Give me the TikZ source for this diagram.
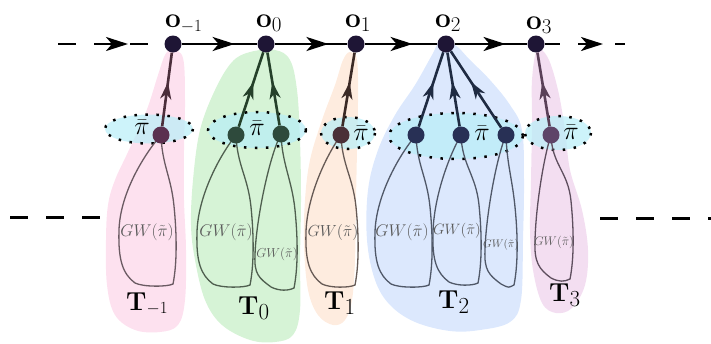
\RequirePackage{fix-cm}
\documentclass[tikz,border=0pt]{standalone}
\usetikzlibrary{arrows.meta,decorations.markings}
\definecolor{pinkT}{HTML}{FDE1EF}
\definecolor{greenT}{HTML}{D6F3D6}
\definecolor{peachT}{HTML}{FEECDF}
\definecolor{blueT}{HTML}{DCE8FD}
\definecolor{purpT}{HTML}{F3DEF1}
\definecolor{cyanE}{HTML}{B8EEF8}
\definecolor{odot}{HTML}{1E1535}
\definecolor{dotA}{HTML}{5B3050}
\definecolor{dotB}{HTML}{2E4A3C}
\definecolor{dotC}{HTML}{4A3038}
\definecolor{dotD}{HTML}{283055}
\definecolor{dotE}{HTML}{5E4468}
\definecolor{arrA}{HTML}{4B2E3B}
\definecolor{arrB}{HTML}{25402A}
\definecolor{arrC}{HTML}{3B2A26}
\definecolor{arrD}{HTML}{1F2B42}
\definecolor{arrE}{HTML}{5A4058}
\definecolor{gwc}{HTML}{5A5A5A}
\definecolor{loopA}{HTML}{6A5A62}
\definecolor{loopB}{HTML}{4F5F4F}
\definecolor{loopC}{HTML}{665A55}
\definecolor{loopD}{HTML}{505868}
\definecolor{loopE}{HTML}{5E4E5E}
% #1 dot x, #2 dot y, #3 left x, #4 right x, #5 bottom y, #6 y of left extreme, #7 colour
\newcommand\gwloop[7]{%
 \draw[gwline,draw=#7] (#1,#2) .. controls ({#1-0.45*(#1-#3)},{#2+22}) and ({#3+1},{#6-35}) .. (#3,#6)
   .. controls ({#3-1},{#6+0.55*(#5-#6)}) and ({#3+4},{#5-12}) .. ({#3+16},{#5-3})
   .. controls ({#3+24},{#5+1}) and ({#4-9},{#5+1}) .. ({#4-3},{#5-2})
   .. controls ({#4+1},{#5-22}) and ({#4+1},{#5-50}) .. ({#4-2},{#5-80})
   .. controls ({#4-5},{#5-110}) and ({#1+1},{#2+30}) .. (#1,#2);}
\newcommand\subsz[2]{\mbox{\fontsize{#1}{#1}\selectfont$#2$}}
\tikzset{
 every node/.style={inner sep=0pt},
 ell/.style={fill=cyanE, fill opacity=0.7, draw=black, line width=2.5pt, dash pattern=on 2.5pt off 8.5pt},
 odotst/.style={circle, fill=odot, minimum size=17pt},
 idot/.style={circle, fill=#1, minimum size=17pt},
 spinearr/.style={line width=2.6pt, postaction={decorate}, decoration={markings, mark=at position #1 with {\arrow{Stealth[length=22pt,width=14pt,inset=6pt]}}}},
 upedge/.style={line width=2.6pt, draw=#1, postaction={decorate}, decoration={markings, mark=at position 0.6 with {\arrow{Stealth[length=17pt,width=11pt,inset=5pt,color=#1]}}}},
 gwline/.style={line width=1.3pt},
 gwtext/.style={text=gwc},
 olab/.style={anchor=base west, font=\fontsize{28}{28}\selectfont},
 tlab/.style={anchor=base west, font=\fontsize{26}{26}\selectfont},
 pilab/.style={font=\fontsize{26}{26}\selectfont},
 lowdash/.style={line width=3pt, dash pattern=on 18pt off 18pt},
 spinedash/.style={line width=2.6pt},
}
\begin{document}
\begin{tikzpicture}[x=1pt,y=-1pt]
\useasboundingbox (0,0) rectangle (711,343);
% blobs
\fill[pinkT] plot[smooth cycle, tension=0.6] coordinates {(172,50) (183,58) (185,100) (184,150) (184,200) (186,250) (185,300) (178,325) (160,332) (135,330) (115,315) (107,285) (106,240) (108,205) (115,180) (128,152) (146,112) (158,75) (165,55)};
\fill[greenT] plot[smooth cycle, tension=0.6] coordinates {(250,52) (275,50) (290,60) (297,90) (300,140) (301,200) (300,260) (300,310) (293,335) (275,342) (250,340) (222,325) (205,300) (195,260) (191,225) (193,180) (200,130) (215,90) (232,62)};
\fill[peachT] plot[smooth cycle, tension=0.6] coordinates {(350,52) (357,60) (358,100) (357,150) (356,200) (355,260) (352,300) (345,320) (333,325) (318,315) (308,290) (304,245) (305,200) (310,160) (322,120) (335,85) (343,60)};
\fill[blueT] plot[smooth cycle, tension=0.6] coordinates {(440,42) (455,45) (470,60) (490,80) (510,105) (522,130) (524,180) (523,240) (521,300) (510,322) (480,330) (450,331) (415,322) (390,305) (375,280) (367,240) (368,190) (378,150) (395,115) (415,85) (432,55)};
\fill[purpT] plot[smooth cycle, tension=0.6] coordinates {(537,50) (548,58) (558,90) (565,130) (570,170) (582,210) (588,250) (585,285) (572,308) (556,313) (542,303) (533,270) (530,230) (531,180) (532,120) (532,80)};
% ellipses
\draw[ell] (149,129) ellipse [x radius=44, y radius=14.5];
\draw[ell] (257,130) ellipse [x radius=49, y radius=18];
\draw[ell] (348,133) ellipse [x radius=27, y radius=16];
\draw[ell] (456,136) ellipse [x radius=67, y radius=23];
\draw[ell] (558,133) ellipse [x radius=33, y radius=17];
% GW loops
\gwloop{161}{135}{119}{176}{286}{230}{loopA}
\gwloop{236}{135}{197}{253}{287}{232}{loopB}
\gwloop{281}{134}{255}{297}{290}{255}{loopB}
\gwloop{341}{135}{306}{358}{287}{232}{loopC}
\gwloop{416}{135}{375}{432}{287}{232}{loopD}
\gwloop{461}{135}{433}{481}{285}{232}{loopD}
\gwloop{506}{135}{485}{517}{287}{250}{loopD}
\gwloop{551}{135}{535}{573}{281}{240}{loopE}
% GW labels
\node[gwtext, font=\fontsize{17}{17}\selectfont] (g1) at (147,232) {$GW(\tilde{\pi})$};
\node[gwtext, font=\fontsize{17}{17}\selectfont] (g2) at (226,232) {$GW(\tilde{\pi})$};
\node[gwtext, font=\fontsize{13}{13}\selectfont] (g3) at (277,254) {$GW(\tilde{\pi})$};
\node[gwtext, font=\fontsize{16}{16}\selectfont] (g4) at (333,232) {$GW(\tilde{\pi})$};
\node[gwtext, font=\fontsize{17}{17}\selectfont] (g5) at (402,232) {$GW(\tilde{\pi})$};
\node[gwtext, font=\fontsize{15}{15}\selectfont] (g6) at (457,231) {$GW(\tilde{\pi})$};
\node[gwtext, font=\fontsize{11}{11}\selectfont] (g7) at (501,245) {$GW(\tilde{\pi})$};
\node[gwtext, font=\fontsize{12.5}{12.5}\selectfont] (g8) at (554,242) {$GW(\tilde{\pi})$};
% lower dashed lines
\coordinate (ll1) at (10,217); \coordinate (ll2) at (100,217);
\coordinate (lr1) at (600,218); \coordinate (lr2) at (711,218);
\draw[lowdash] (ll1) -- (ll2);
\draw[lowdash] (lr1) -- (lr2);
% spine nodes
\node[odotst] (om1) at (173,44) {};
\node[odotst] (o0) at (266,44) {};
\node[odotst] (o1) at (356,44) {};
\node[odotst] (o2) at (446,44) {};
\node[odotst] (o3) at (536,44) {};
% inner dots
\node[idot=dotA] (a1) at (161,135) {};
\node[idot=dotB] (b1) at (236,135) {};
\node[idot=dotB] (b2) at (281,134) {};
\node[idot=dotC] (c1) at (341,135) {};
\node[idot=dotD] (d1) at (416,135) {};
\node[idot=dotD] (d2) at (461,135) {};
\node[idot=dotD] (d3) at (506,135) {};
\node[idot=dotE] (e1) at (551,135) {};
% spine edges
\draw[spinearr=0.7] (om1) -- (o0);
\draw[spinearr=0.74] (o0) -- (o1);
\draw[spinearr=0.66] (o1) -- (o2);
\draw[spinearr=0.7] (o2) -- (o3);
% spine ends
\coordinate (sl1) at (58,44); \coordinate (sl2) at (76,44);
\coordinate (sl3) at (94,44); \coordinate (sl4) at (128,44);
\coordinate (sl5) at (130,44); \coordinate (sl6) at (148,44);
\draw[spinedash] (sl1) -- (sl2);
\draw[spinedash, -{Stealth[length=22pt,width=14pt,inset=6pt]}] (sl3) -- (sl4);
\draw[spinedash] (sl5) -- (sl6);
\coordinate (sr1) at (560,44); \coordinate (sr2) at (578,44);
\coordinate (sr3) at (603,44); \coordinate (sr4) at (615,44);
\coordinate (sr5) at (625,44);
\draw[spinedash] (o3) -- (sr1);
\draw[spinedash, -{Stealth[length=22pt,width=14pt,inset=6pt]}] (sr2) -- (sr3);
\draw[spinedash] (sr4) -- (sr5);
% upward edges
\draw[upedge=arrA] (a1) -- (om1);
\draw[upedge=arrB] (b1) -- (o0);
\draw[upedge=arrB] (b2) -- (o0);
\draw[upedge=arrC] (c1) -- (o1);
\draw[upedge=arrD] (d1) -- (o2);
\draw[upedge=arrD] (d2) -- (o2);
\draw[upedge=arrD] (d3) -- (o2);
\draw[upedge=arrE] (e1) -- (o3);
% pi labels
\node[pilab] (p1) at (142,127) {$\bar{\pi}$};
\node[pilab] (p2) at (257,128) {$\bar{\pi}$};
\node[pilab] (p3) at (361,133) {$\bar{\pi}$};
\node[pilab] (p4) at (482,133) {$\bar{\pi}$};
\node[pilab] (p5) at (571,132) {$\bar{\pi}$};
% o labels
\node[olab] (lom1) at (165,27) {$\mathbf{o}_{\subsz{17}{-1}}$};
\node[olab] (lo0) at (256,27) {$\mathbf{o}_{\subsz{21}{0}}$};
\node[olab] (lo1) at (345,27) {$\mathbf{o}_{\subsz{21}{1}}$};
\node[olab] (lo2) at (435,27) {$\mathbf{o}_{\subsz{21}{2}}$};
\node[olab] (lo3) at (526,29) {$\mathbf{o}_{\subsz{21}{3}}$};
% T labels
\node[tlab] (tm1) at (126,310) {$\mathbf{T}_{\subsz{17}{-1}}$};
\node[tlab] (t0) at (238,314) {$\mathbf{T}_{\subsz{23}{0}}$};
\node[tlab] (t1) at (324,309) {$\mathbf{T}_{\subsz{23}{1}}$};
\node[tlab] (t2) at (438,308) {$\mathbf{T}_{\subsz{23}{2}}$};
\node[tlab] (t3) at (549,301) {$\mathbf{T}_{\subsz{23}{3}}$};
\end{tikzpicture}
\end{document}
